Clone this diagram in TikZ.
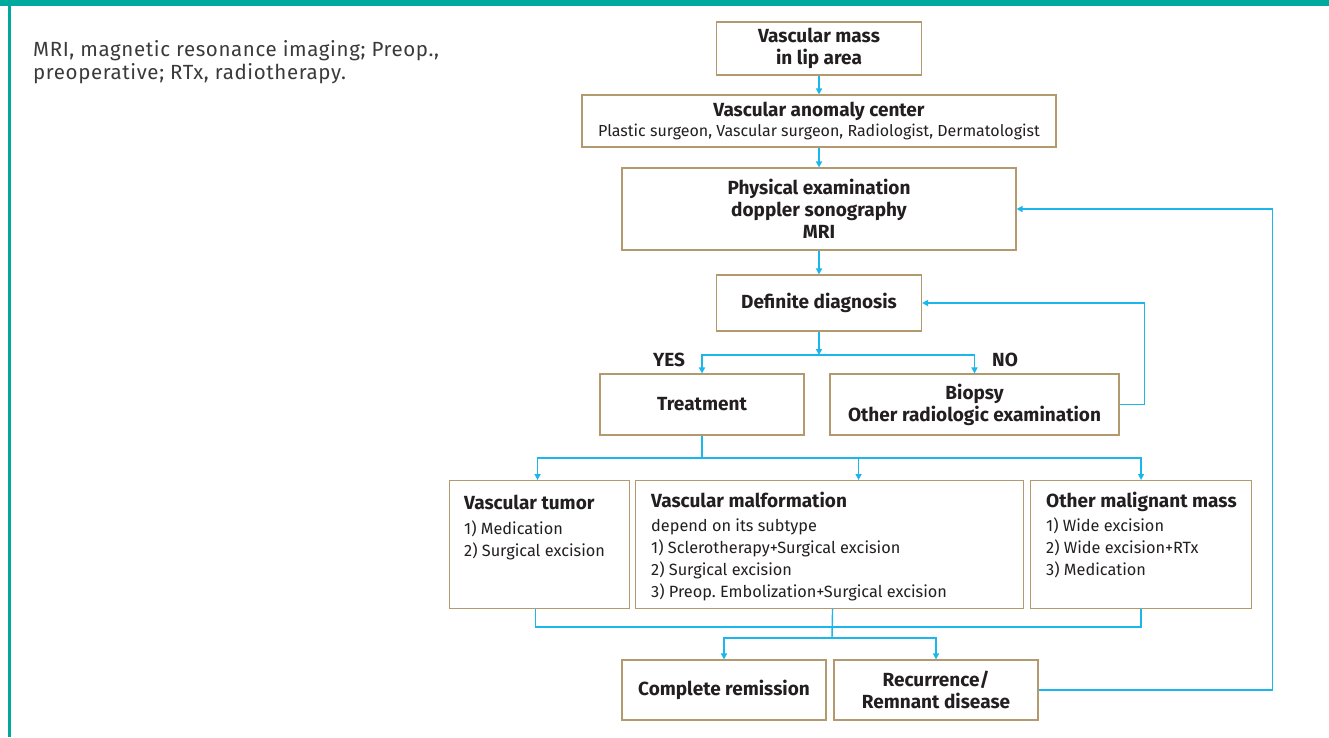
\documentclass[tikz,border=0pt]{standalone}
\usepackage{fontspec}
\setmainfont{Fira Sans}
\usetikzlibrary{arrows.meta}
\frenchspacing

\definecolor{framecol}{HTML}{00A99D}
\definecolor{boxcol}{HTML}{B39A6E}
\definecolor{linecol}{HTML}{1BB6EC}
\definecolor{txtcol}{HTML}{231F20}
\definecolor{notecol}{HTML}{3A3A3A}

\tikzset{
  flowbox/.style={draw=boxcol, line width=1.1pt, fill=white, text=txtcol,
    align=center, inner sep=0pt, font=\fontseries{sb}\selectfont\fontsize{19}{22}\selectfont},
  listbox/.style={draw=boxcol, line width=1.1pt, fill=white, inner sep=0pt,
    anchor=north west, minimum height=128},
  listtext/.style={anchor=north west, inner sep=0pt, align=left, text=txtcol,
    font=\fontseries{l}\selectfont\fontsize{16.3}{22}\selectfont},
  ln/.style={draw=linecol, line width=1.4pt},
  arr/.style={ln, -{Triangle[length=6pt,width=6pt]}},
}
\newcommand{\boxtitle}[1]{{\fontseries{sb}\selectfont\fontsize{19}{22}\selectfont #1}}

\begin{document}
\begin{tikzpicture}[x=1pt,y=-1pt]
  \useasboundingbox (0,0) rectangle (1329,737);
  \fill[framecol] (0,0) rectangle (1329,6);
  \fill[framecol] (8,0) rectangle (11,737);

  \node[anchor=north west, align=left, inner sep=0pt, text=notecol,
        font=\fontseries{l}\selectfont\fontsize{20.5}{23}\selectfont\addfontfeature{LetterSpace=3}] (note) at (33,40)
        {MRI, magnetic resonance imaging; Preop.,\\preoperative; RTx, radiotherapy.};

  % centred boxes
  \begin{scope}[every node/.style={flowbox}]
    \node[minimum width=205, minimum height=53] (mass) at (819,48.5) {Vascular mass\\in lip area};
    \node[minimum width=474, minimum height=52] (anomaly) at (819,121)
      {Vascular anomaly center\\[-2pt]{\fontseries{l}\selectfont\fontsize{16}{19}\selectfont Plastic surgeon, Vascular surgeon, Radiologist, Dermatologist}};
    \node[minimum width=394, minimum height=82] (phys) at (819,209) {Physical examination\\doppler sonography\\MRI};
    \node[minimum width=205, minimum height=56] (diag) at (819,303) {Definite diagnosis};
    \node[minimum width=204, minimum height=61] (treat) at (702,404.5) {Treatment};
    \node[minimum width=289, minimum height=61] (biopsy) at (974.5,404.5) {Biopsy\\Other radiologic examination};
    \node[minimum width=204, minimum height=60] (remis) at (724,690) {Complete remission};
    \node[minimum width=204, minimum height=60] (recur) at (936,690) {Recurrence/\\Remnant disease};
  \end{scope}

  \node[text=txtcol, font=\fontseries{sb}\selectfont\fontsize{19}{22}\selectfont] (yes) at (669,360) {YES};
  \node[text=txtcol, font=\fontseries{sb}\selectfont\fontsize{19}{22}\selectfont] (no) at (1005,360) {NO};

  % boxes with lists
  \node[listbox, minimum width=180] (tumor) at (449,480) {};
  \node[listbox, minimum width=388] (malf) at (635,480) {};
  \node[listbox, minimum width=221] (other) at (1030,480) {};

  \node[listtext] (tumortxt) at ([shift={(15,15)}]tumor.north west)
    {\boxtitle{Vascular tumor}\\[3pt]1) Medication\\2) Surgical excision};
  \node[listtext] (malftxt) at ([shift={(16,12)}]malf.north west)
    {\boxtitle{Vascular malformation}\\[2pt]depend on its subtype\\1) Sclerotherapy+Surgical excision\\2) Surgical excision\\3) Preop. Embolization+Surgical excision};
  \node[listtext] (othertxt) at ([shift={(16,12)}]other.north west)
    {\boxtitle{Other malignant mass}\\[2pt]1) Wide excision\\2) Wide excision+RTx\\3) Medication};

  \coordinate (yn) at (819,355);
  \coordinate (tj) at (702,458);
  \coordinate (bm) at (832,627);
  \coordinate (bj) at (832,638);

  \draw[arr] (mass) -- (anomaly);
  \draw[arr] (anomaly) -- (phys);
  \draw[arr] (phys) -- (diag);
  \draw[arr] (diag) -- (yn);
  \draw[arr] (yn) -| (treat);
  \draw[arr] (yn) -| (biopsy);
  \draw[arr] (biopsy.east) -- ++(25,0) |- (diag.east);

  \draw[ln] (treat) -- (tj);
  \draw[arr] (tj) -| ([xshift=-2]tumor.north);
  \draw[arr] (tj) -| ([xshift=29]malf.north);
  \draw[arr] (tj) -| (other.north);

  \draw[ln] ([xshift=-4]tumor.south) |- (bm) -| (other.south);
  \draw[ln] ([xshift=3]malf.south) -- (bj);
  \draw[arr] (bj) -| (remis);
  \draw[arr] (bj) -| (recur);
  \draw[arr] (recur.east) -- ++(234,0) |- (phys.east);
\end{tikzpicture}
\end{document}
